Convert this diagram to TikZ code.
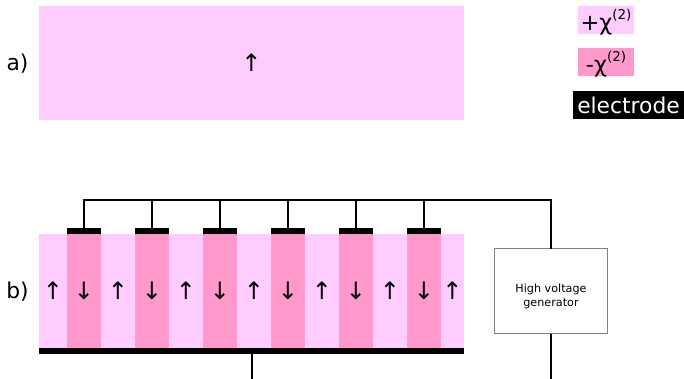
\documentclass[tikz,border=0pt]{standalone}
\usepackage{fontspec}
\setmainfont{DejaVu Sans}
\usetikzlibrary{positioning}
\usetikzlibrary{calc}
\definecolor{poslight}{HTML}{FFCCFF}
\definecolor{negdark}{HTML}{FF99CC}
\newcommand{\chisup}{χ\raisebox{11pt}{\fontsize{13.5}{13.5}\selectfont (2)}}
\tikzset{
    block/.style={inner sep=0pt, outer sep=0pt, anchor=north west, font=\fontsize{24}{24}\selectfont},
    posblock/.style={block, fill=poslight},
    negblock/.style={block, fill=negdark},
    electrode/.style={block, fill=black, text=white},
    wire/.style={line width=2pt},
    lbl/.style={font=\fontsize{21.8}{24}\selectfont, inner sep=0pt},
    legend/.style={anchor=center, font=\fontsize{22.5}{24}\selectfont}
}
\begin{document}
\begin{tikzpicture}[x=1pt, y=-1pt]
    \useasboundingbox (0,0) rectangle (684,379);
    \node[posblock, minimum width=425pt, minimum height=114pt] (crystal) at (39,6) {↑};
    \node[lbl] (lbla) at (17.5,64) {a)};

    \node[lbl] (lblb) at (17.5,292) {b)};
    \node[posblock, minimum width=28pt, minimum height=114pt] (up0) at (39,234) {↑};
    \foreach \i/\xpos in {1/67, 2/135, 3/203, 4/271, 5/339, 6/407} {
        \node[negblock, minimum width=34pt, minimum height=114pt] (down\i) at (\xpos,234) {↓};
        \node[electrode, minimum width=34pt, minimum height=6pt, anchor=south] (top\i) at (down\i.north) {};
        \ifnum\i<6
            \node[posblock, minimum width=34pt, minimum height=114pt] (up\i) at (\xpos+34,234) {↑};
        \fi
    }
    \node[posblock, minimum width=23pt, minimum height=114pt] (up6) at (441,234) {↑};
    \node[electrode, minimum width=425pt, minimum height=6pt] (bottom) at (39,348) {};

    \node[draw=black!50, line width=1pt, minimum width=113pt, minimum height=85pt] (gen) at (551,290.5) {};
    \node[align=center, inner sep=0pt, font=\fontsize{11.2}{14.6}\selectfont] (gentext) at (551,296.5) {High voltage\\generator};
    \coordinate (bus) at (551,200);
    \coordinate (ground) at (551,379);

    \draw[wire, line cap=rect] (top1.north) |- (bus) -- (gen.north);
    \foreach \i in {2,...,6} {
        \draw[wire] (top\i.north) -- (top\i.north |- bus);
    }
    \draw[wire] (gen.south) -- (ground);
    \draw[wire] (bottom.south) -- (bottom.south |- ground);

    \node[posblock, minimum width=56pt, minimum height=28pt, legend] (legpos) at (606,20) {};
    \node[font=\fontsize{22.5}{24}\selectfont, inner sep=0pt] (textpos) at (606,22) {+\chisup};
    \node[negblock, minimum width=56pt, minimum height=28pt, legend] (legneg) at (606,62) {};
    \node[font=\fontsize{22.5}{24}\selectfont, inner sep=0pt] (textneg) at (606,64) {-\chisup};
    \node[electrode, minimum width=111pt, minimum height=28pt, legend, font=\fontsize{21.8}{24}\selectfont] (legel) at (628.5,105) {electrode};
\end{tikzpicture}
\end{document}
